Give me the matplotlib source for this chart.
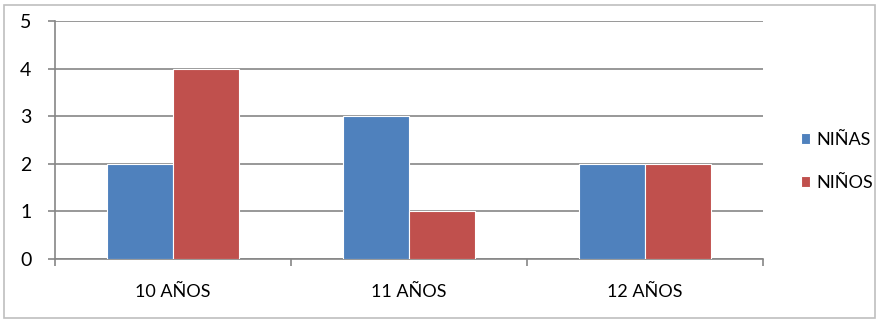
import numpy as np
import matplotlib.pyplot as plt
from matplotlib.patches import Rectangle

categorias = ["10 AÑOS", "11 AÑOS", "12 AÑOS"]
ninas = [2, 3, 2]
ninos = [4, 1, 2]

plt.rcParams['font.family'] = ['Lato', 'DejaVu Sans']

fig = plt.figure(figsize=(8.79, 3.23), dpi=100)
fig.patches.append(Rectangle((0.005, 0.015), 0.99, 0.97, transform=fig.transFigure,
                             fill=False, edgecolor="#bfbfbf", linewidth=1.2))
ax = fig.add_axes([0.0626, 0.198, 0.8055, 0.737])

x = np.arange(len(categorias))
w = 0.28
ax.bar(x - w / 2, ninas, w, color="#4F81BD", edgecolor="white", linewidth=0.8, label="NIÑAS", zorder=3)
ax.bar(x + w / 2, ninos, w, color="#C0504D", edgecolor="white", linewidth=0.8, label="NIÑOS", zorder=3)

ax.set_xlim(-0.5, 2.5)
ax.set_ylim(0, 5)
ax.set_yticks(range(6))
ax.yaxis.grid(True, color="#868686", linewidth=1.2)
ax.set_axisbelow(True)

ax.set_xticks(x)
ax.set_xticklabels(categorias, fontsize=13)
ax.tick_params(axis="x", length=0, pad=18)
ax.set_xticks([-0.5, 0.5, 1.5, 2.5], minor=True)
ax.tick_params(axis="x", which="minor", length=5, color="#868686", width=1.2)
ax.tick_params(axis="y", labelsize=14, length=5, color="#868686", width=1.2, pad=12)

for s in ["top", "right"]:
    ax.spines[s].set_visible(False)
for s in ["left", "bottom"]:
    ax.spines[s].set_color("#868686")
    ax.spines[s].set_linewidth(1.2)

ax.legend(loc="center left", bbox_to_anchor=(1.03, 0.41), frameon=False, fontsize=13,
          handlelength=0.5, handleheight=0.5, handletextpad=0.35, labelspacing=1.5)

fig.savefig("out.png", dpi=100)
